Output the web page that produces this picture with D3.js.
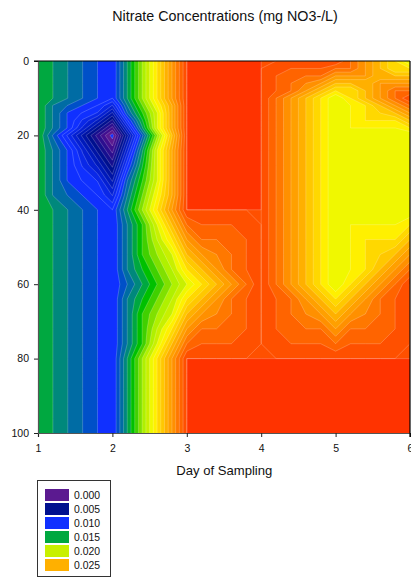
<!DOCTYPE html>
<html>
<head>
<meta charset="utf-8">
<script src="https://cdn.jsdelivr.net/npm/d3@7"></script>
<style>
html,body{margin:0;padding:0;background:#fff;overflow:hidden}
svg{display:block}
text{font-family:"Liberation Sans",Arial,sans-serif;fill:#111}
</style>
</head>
<body>
<svg id="c" width="411" height="577"></svg>
<script>
const days = [1, 2, 3, 4, 5, 6];
const depths = [0, 10, 20, 40, 60, 80, 100];
const row0 = [0.015, 0.010, 0.030, 0.030, 0.030, 0.020];
const row10 = [0.015, 0.010, 0.030, 0.030, 0.020, 0.030];
const row20 = [0.015, -0.0005, 0.030, 0.030, 0.020, 0.020];
const row40 = [0.015, 0.010, 0.030, 0.030, 0.020, 0.020];
const row60 = [0.015, 0.010, 0.020, 0.030, 0.020, 0.030];
const row80 = [0.015, 0.010, 0.030, 0.030, 0.030, 0.030];
const row100 = [0.015, 0.010, 0.030, 0.030, 0.030, 0.030];
const xTicks = [1, 2, 3, 4, 5, 6];
const yTicks = [0, 20, 40, 60, 80, 100];
const legendLevels = ["0.000", "0.005", "0.010", "0.015", "0.020", "0.025"];
const legendColors = ["#5b1a90", "#00108f", "#1030ff", "#00a840", "#c8f000", "#ffb000"];
const levelCount = 31;
const bandColors = ["#5b1a90","#420f8f","#2c0e8f","#160f8f","#00108f","#0014a5","#001abb","#0520d2","#0a28e8","#1030ff",
  "#1030ff","#0050c8","#006ca4","#00887c","#00a840","#00c000","#40d000","#80e000","#b0f000","#c8f000",
  "#f0f800","#fff000","#ffd800","#ffc800","#ffb000","#ffa000","#ff9000","#ff7800","#ff6400","#ff5000","#ff3300"];

const rows = [row0, row10, row20, row40, row60, row80, row100];
const SUB = 5; // the contouring mesh: each data cell is meshed 5x5

// Value of the contouring surface inside one data cell (s,t in 0..1, corners a b / c d).
function surface(a, b, c, d, s, t) {
  const bilinear = a + (b - a) * s + (c - a) * t + (a - b - c + d) * s * t;
  const twist = a - b - c + d;
  if (Math.abs(twist) < 1e-9) return bilinear;
  const corners = [[0, 0, a], [1, 0, b], [0, 1, c], [1, 1, d]];
  const saddle = (a - b) * (a - c) > 0 && (d - b) * (d - c) > 0 && (a - b) * (d - b) > 0;
  if (saddle) {
    const lo = Math.min(a, b), hi = Math.max(a, b);
    const cheb = p => Math.max(Math.abs(p[0] - s), Math.abs(p[1] - t));
    const near = corners[d3.minIndex(corners, cheb)];
    const far = cheb(near);
    return near[2] === lo ? lo + (hi - lo) * far : hi - (hi - lo) * far;
  }
  const spread = i => {
    const rest = corners.filter((p, j) => j !== i).map(p => p[2]);
    return d3.max(rest) - d3.min(rest);
  };
  const X = corners[d3.minIndex(corners, (p, i) => spread(i))];
  const u = 1 - Math.abs(s - X[0]), v = 1 - Math.abs(t - X[1]);
  const delta = (X[0] === X[1] ? 1 : -1) * twist;
  const plane = bilinear - delta * u * v;
  return plane + delta * Math.max(u + v - 1, Math.min(u, v) / 2);
}

const fineX = [], fineY = [];
days.forEach((d, i) => { if (i < days.length - 1) for (let k = 0; k < SUB; k++) fineX.push(d + (days[i + 1] - d) * k / SUB); else fineX.push(d); });
depths.forEach((d, j) => { if (j < depths.length - 1) for (let k = 0; k < SUB; k++) fineY.push(d + (depths[j + 1] - d) * k / SUB); else fineY.push(d); });
const nx = fineX.length, ny = fineY.length;
const mesh = [];
fineY.forEach((_, jj) => fineX.forEach((_, ii) => {
  const i = Math.min(Math.floor(ii / SUB), days.length - 2), j = Math.min(Math.floor(jj / SUB), depths.length - 2);
  const s = (ii - i * SUB) / SUB, t = (jj - j * SUB) / SUB;
  const v = surface(rows[j][i], rows[j][i + 1], rows[j + 1][i], rows[j + 1][i + 1], s, t);
  mesh.push(Math.round(v * 1e7) / 1e7);
}));

// Top level: only solid plateaus stay at it, so its edges run square along the mesh.
const topLevel = (levelCount - 1) / 1000;
const inPlateau = (ii, jj) => {
  for (const [a, b] of [[-1, -1], [0, -1], [-1, 0], [0, 0]]) {
    const i0 = ii + a, j0 = jj + b;
    if (i0 < 0 || j0 < 0 || i0 + 1 >= nx || j0 + 1 >= ny) continue;
    if ([[0, 0], [1, 0], [0, 1], [1, 1]].every(([p, q]) => mesh[(j0 + q) * nx + i0 + p] >= topLevel)) return true;
  }
  return false;
};
const values = mesh.map((v, k) => (v >= topLevel && !inPlateau(k % nx, Math.floor(k / nx))) ? topLevel - 1e-6 : v);

const svg = d3.select("#c");
const left = 38, right = 410, top_ = 61, bottom = 433;
const x = d3.scaleLinear().domain([1, 6]).range([left, right]);
const y = d3.scaleLinear().domain([0, 100]).range([top_, bottom]);

const thresholds = d3.range(levelCount).map(i => i / 1000);
const contours = d3.contours().size([nx, ny]).thresholds(thresholds)(values);
const ridge = d3.contours().size([nx, ny]).thresholds([topLevel - 2e-6])(values);

const gx = d3.scaleLinear().domain(fineX.map((d, i) => i + 0.5)).range(fineX.map(x));
const gy = d3.scaleLinear().domain(fineY.map((d, i) => i + 0.5)).range(fineY.map(y));
const path = d3.geoPath(d3.geoTransform({point(a, b) { this.stream.point(gx(a), gy(b)); }}));

svg.append("defs").append("clipPath").attr("id", "plot").append("rect")
  .attr("x", left).attr("y", top_).attr("width", right - left).attr("height", bottom - top_);

const plot = svg.append("g").attr("clip-path", "url(#plot)");
plot.append("rect").attr("x", left).attr("y", top_).attr("width", right - left).attr("height", bottom - top_).attr("fill", "#1030ff");
plot.selectAll("path.band").data(contours).join("path").attr("class", "band")
  .attr("d", path)
  .attr("fill", (d, i) => bandColors[i])
  .attr("stroke", "#fff").attr("stroke-opacity", 0.3).attr("stroke-width", 0.7);
plot.selectAll("path.ridge").data(ridge).join("path").attr("class", "ridge")
  .attr("d", path)
  .attr("fill", "none")
  .attr("stroke", "#fff").attr("stroke-opacity", 0.3).attr("stroke-width", 0.7);

const xAxis = d3.axisBottom(x).tickValues(xTicks).tickFormat(d3.format("d")).tickSize(4).tickPadding(7.5);
const yAxis = d3.axisLeft(y).tickValues(yTicks).tickFormat(d3.format("d")).tickSize(4).tickPadding(5);
const gX = svg.append("g").attr("transform", `translate(0,${bottom})`).call(xAxis);
const gY = svg.append("g").attr("transform", `translate(${left},0)`).call(yAxis);
[gX, gY].forEach(g => {
  g.select(".domain").attr("stroke", "#555").attr("stroke-width", 1.2);
  g.selectAll("line").attr("stroke", "#222");
  g.selectAll("text").attr("font-size", 10.5).attr("font-family", "Liberation Sans").attr("fill", "#111");
});
svg.append("line").attr("x1", left - 4).attr("x2", right).attr("y1", top_).attr("y2", top_).attr("stroke", "#000").attr("stroke-width", 1.2);
svg.append("line").attr("x1", right).attr("x2", right).attr("y1", top_).attr("y2", bottom + 4).attr("stroke", "#000").attr("stroke-width", 1.2);

svg.append("text").attr("x", 225).attr("y", 21).attr("text-anchor", "middle").attr("font-size", 14.3).text("Nitrate Concentrations (mg NO3-/L)");
svg.append("text").attr("x", 224.3).attr("y", 475).attr("text-anchor", "middle").attr("font-size", 13.1).text("Day of Sampling");

const lg = svg.append("g");
lg.append("rect").attr("x", 37.5).attr("y", 480.5).attr("width", 73).attr("height", 96).attr("fill", "#fff").attr("stroke", "#333").attr("stroke-width", 1);
const legendRows = lg.selectAll("g").data(legendLevels).join("g").attr("transform", (d, i) => `translate(45,${489 + i * 14})`);
legendRows.append("rect").attr("width", 24).attr("height", 12).attr("fill", (d, i) => legendColors[i]);
legendRows.append("text").attr("x", 29).attr("y", 9.5).attr("font-size", 10.4).text(d => d);
</script>
</body>
</html>
